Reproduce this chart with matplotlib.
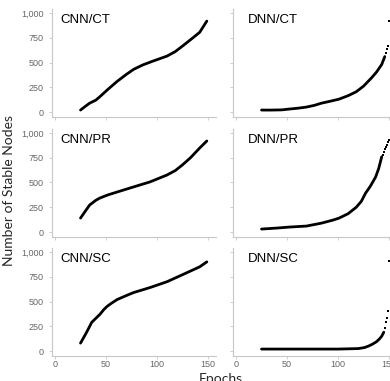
import matplotlib.pyplot as plt

# CNN curves (solid lines)
cnn_ct_ep = [25, 30, 34, 40, 44, 52, 61, 70, 77, 86, 95, 110, 118, 125, 133, 142, 149]
cnn_ct_val = [20, 60, 90, 120, 155, 230, 310, 380, 430, 475, 510, 565, 610, 665, 730, 805, 918]

cnn_pr_ep = [25, 30, 34, 40, 44, 52, 61, 77, 93, 110, 118, 125, 133, 142, 149]
cnn_pr_val = [141, 215, 273, 320, 343, 375, 404, 455, 505, 576, 620, 677, 750, 848, 919]

cnn_sc_ep = [25, 28, 31, 36, 40, 44, 48, 51, 55, 61, 70, 77, 93, 110, 125, 142, 149]
cnn_sc_val = [80, 135, 190, 290, 330, 370, 420, 450, 480, 520, 560, 590, 640, 700, 770, 850, 900]

# DNN curves: dense part + sparse dots at the steep end
dnn_ct_ep = [25, 35, 45, 52, 60, 69, 77, 84, 92, 101, 110, 118, 125, 133, 138, 143, 146]
dnn_ct_val = [20, 20, 22, 30, 38, 50, 68, 90, 108, 130, 165, 205, 260, 345, 405, 480, 560]
dnn_ct_tail_ep = [147, 148, 149, 150]
dnn_ct_tail_val = [600, 640, 665, 920]

dnn_pr_ep = [25, 40, 52, 69, 84, 95, 101, 110, 118, 123, 127, 132, 137, 140, 143]
dnn_pr_val = [30, 40, 50, 60, 90, 120, 140, 185, 250, 310, 390, 465, 555, 640, 760]
dnn_pr_tail_ep = [144, 145, 146, 147, 148, 149, 150]
dnn_pr_tail_val = [780, 810, 835, 860, 880, 905, 930]

dnn_sc_ep = [25, 50, 75, 100, 120, 126, 130, 134, 138, 141, 143, 145]
dnn_sc_val = [20, 20, 20, 20, 25, 35, 50, 70, 95, 125, 150, 190]
dnn_sc_tail_ep = [146, 147, 148, 149, 150]
dnn_sc_tail_val = [230, 290, 330, 400, 910]

yticks = [0, 250, 500, 750, 1000]
ytick_labels = ['0', '250', '500', '750', '1,000']
xticks = [0, 50, 100, 150]

plt.rcParams['font.family'] = ['Liberation Sans', 'DejaVu Sans']

fig = plt.figure(figsize=(3.9, 3.81), dpi=100)

grey = '#c8c8c8'
tick_grey = '#666666'

rows = [0.6929, 0.378, 0.0656]
h = 0.2835
w = 164 / 390
lefts = [52 / 390, 233 / 390]

cnn = [(cnn_ct_ep, cnn_ct_val, 'CNN/CT'),
       (cnn_pr_ep, cnn_pr_val, 'CNN/PR'),
       (cnn_sc_ep, cnn_sc_val, 'CNN/SC')]
dnn = [(dnn_ct_ep, dnn_ct_val, dnn_ct_tail_ep, dnn_ct_tail_val, 'DNN/CT'),
       (dnn_pr_ep, dnn_pr_val, dnn_pr_tail_ep, dnn_pr_tail_val, 'DNN/PR'),
       (dnn_sc_ep, dnn_sc_val, dnn_sc_tail_ep, dnn_sc_tail_val, 'DNN/SC')]


def style(ax, ylabels, xlabels):
    ax.set_xlim(-3, 158)
    ax.set_ylim(-50, 1040)
    for s in ['top', 'right']:
        ax.spines[s].set_visible(False)
    for s in ['left', 'bottom']:
        ax.spines[s].set_color(grey)
        ax.spines[s].set_linewidth(0.8)
    ax.set_yticks(yticks)
    ax.set_xticks(xticks)
    ax.tick_params(colors=grey, labelcolor=tick_grey, labelsize=6.5, length=2, width=0.6)
    ax.tick_params(axis='y', pad=4)
    ax.tick_params(axis='x', pad=1)
    if ylabels:
        ax.set_yticklabels(ytick_labels)
    else:
        ax.set_yticklabels([])
    if not xlabels:
        ax.set_xticklabels([])
    ax.patch.set_alpha(0)


for i in range(3):
    ax = fig.add_axes([lefts[0], rows[i], w, h])
    ep, val, name = cnn[i]
    ax.plot(ep, val, color='black', lw=2.0, solid_capstyle='round')
    ax.text(0.05, 0.955, name, transform=ax.transAxes, va='top', ha='left', fontsize=9.5)
    style(ax, True, i == 2)

    ax2 = fig.add_axes([lefts[1], rows[i], w, h])
    ep, val, tep, tval, name = dnn[i]
    ax2.plot(ep, val, color='black', lw=2.0, solid_capstyle='round')
    ax2.scatter(tep, tval, color='black', s=3, marker='s', linewidths=0)
    ax2.text(0.09, 0.955, name, transform=ax2.transAxes, va='top', ha='left', fontsize=9.5)
    style(ax2, False, i == 2)

fig.text(0.022, 0.5, 'Number of Stable Nodes', rotation=90, va='center', ha='center',
         fontsize=10, color='#262626', family=['Lato', 'DejaVu Sans'])
fig.text(0.565, 0.006, 'Epochs', va='center', ha='center',
         fontsize=10, color='#262626', family=['Lato', 'DejaVu Sans'])

plt.savefig('out.png', dpi=100)
